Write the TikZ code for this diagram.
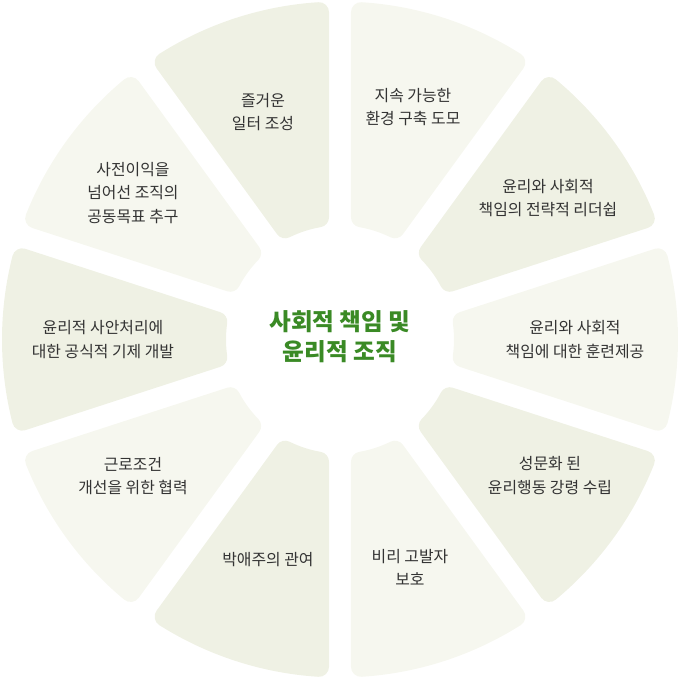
\documentclass[tikz,border=0pt]{standalone}
\usepackage{fontspec}
\setmainfont{Noto Sans CJK KR}
\usepackage{tikz}
\usetikzlibrary{calc}
\definecolor{segdark}{HTML}{EFF1E4}
\definecolor{seglight}{HTML}{F6F7EF}
\definecolor{titlegreen}{HTML}{3A8A25}
\definecolor{labelgray}{HTML}{333333}
\tikzset{
  seg/.style={fill=#1, draw=#1, line width=0.5cm, line join=round},
  lbl/.style={align=center, text=labelgray, font=\fontsize{11.3}{16.5}\selectfont},
  ttl/.style={align=center, text=titlegreen, font=\fontsize{16.8}{21.5}\selectfont\bfseries},
}

\begin{document}
\begin{tikzpicture}[x=0.025cm,y=0.025cm]
\useasboundingbox (-340,-339.5) rectangle (340,339.5);
% Ten segments (gap 22px), shrunk by the corner radius, then stroked thick
\pgfmathsetmacro{\Ro}{328}
\pgfmathsetmacro{\Ri}{124}
\pgfmathsetmacro{\dOut}{asin(21/328)}
\pgfmathsetmacro{\dIn}{asin(21/124)}
\foreach \a/\c in {90/segdark,54/seglight,18/segdark,-18/seglight,-54/segdark,
                   -90/seglight,-126/segdark,-162/seglight,162/segdark,126/seglight}{
  \filldraw[seg=\c] ({\a+\dOut}:\Ro)
    arc[start angle={\a+\dOut}, end angle={\a+36-\dOut}, radius=\Ro]
    -- ({\a+36-\dIn}:\Ri)
    arc[start angle={\a+36-\dIn}, end angle={\a+\dIn}, radius=\Ri] -- cycle;
}
% Labels
\node[ttl] (title) at (0,2.5) {사회적 책임 및\\윤리적 조직};
\node[lbl] (joy) at (-77,227.5) {즐거운\\일터 조성};
\node[lbl] (sustain) at (73,232.5) {지속 가능한\\환경 구축 도모};
\node[lbl] (strategy) at (208,141.5) {윤리와 사회적\\책임의 전략적 리더쉽};
\node[lbl] (training) at (235,0) {윤리와 사회적\\책임에 대한 훈련제공};
\node[lbl] (codex) at (210,-136) {성문화 된\\윤리행동 강령 수립};
\node[lbl] (whistle) at (70,-228) {비리 고발자\\보호};
\node[lbl] (charity) at (-72,-220.5) {박애주의 관여};
\node[lbl] (labour) at (-207,-136.5) {근로조건\\개선을 위한 협력};
\node[lbl] (handling) at (-237,0) {윤리적 사안처리에\\대한 공식적 기제 개발};
\node[lbl] (goal) at (-207,146.5) {사전이익을\\넘어선 조직의\\공동목표 추구};
\end{tikzpicture}
\end{document}
